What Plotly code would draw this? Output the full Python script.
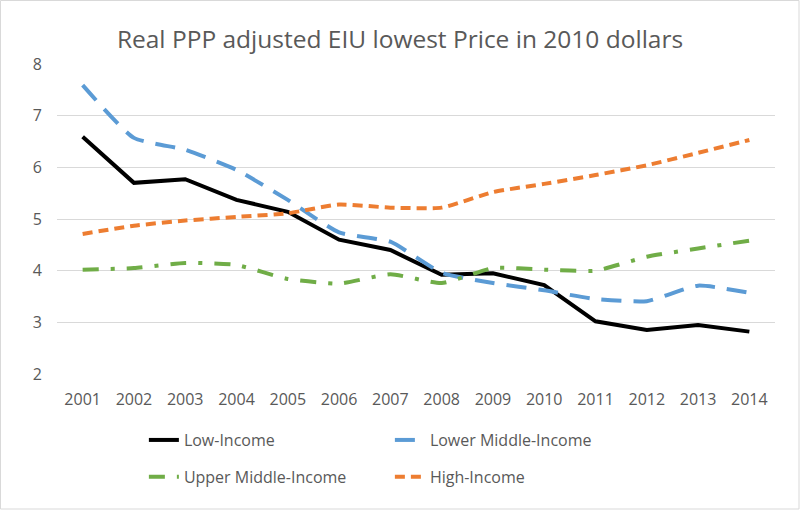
import plotly.graph_objects as go

years = [str(y) for y in range(2001, 2015)]

low_income = [6.59, 5.70, 5.77, 5.37, 5.14, 4.60, 4.40, 3.92, 3.95, 3.72, 3.02, 2.85, 2.95, 2.82]
lower_middle = [7.59, 6.57, 6.34, 5.95, 5.37, 4.74, 4.56, 3.96, 3.76, 3.62, 3.45, 3.41, 3.71, 3.57]
upper_middle = [4.02, 4.05, 4.15, 4.11, 3.84, 3.75, 3.93, 3.76, 4.05, 4.02, 4.00, 4.27, 4.43, 4.58]
high_income = [4.71, 4.87, 4.97, 5.04, 5.11, 5.28, 5.22, 5.22, 5.52, 5.68, 5.85, 6.04, 6.28, 6.53]

FONT = "Open Sans, Liberation Sans, Arial, sans-serif"
TEXT = "#595959"
GRID = "#d9d9d9"

# (name, values, line style, legend id)
series = [
    ("Low-Income", low_income, dict(color="#000000", width=4, dash="solid", shape="linear"), "legend"),
    ("Lower Middle-Income", lower_middle, dict(color="#5b9bd5", width=4, dash="20px,12px", shape="spline", smoothing=0.5), "legend"),
    ("Upper Middle-Income", upper_middle, dict(color="#70ad47", width=4, dash="16px,12px,4px,12px", shape="spline", smoothing=0.5), "legend2"),
    ("High-Income", high_income, dict(color="#ed7d31", width=4, dash="10px,6px", shape="spline", smoothing=0.5), "legend2"),
]

fig = go.Figure()
for name, vals, line, leg in series:
    fig.add_trace(
        go.Scatter(
            x=years,
            y=vals,
            mode="lines",
            name=name,
            legend=leg,
            line=line,
        )
    )

legend_style = dict(
    orientation="h",
    x=0.121,
    xanchor="left",
    yanchor="middle",
    entrywidth=201,
    font=dict(family=FONT, size=16, color=TEXT),
    bgcolor="rgba(0,0,0,0)",
)

fig.update_layout(
    width=800,
    height=510,
    margin=dict(l=57, r=25, t=64, b=136),
    paper_bgcolor="#ffffff",
    plot_bgcolor="#ffffff",
    font=dict(family=FONT, color=TEXT, size=16),
    title=dict(
        text="Real PPP adjusted EIU lowest Price in 2010 dollars",
        x=0.5,
        xanchor="center",
        y=0.922,
        yanchor="middle",
        font=dict(family=FONT, size=24.5, color=TEXT),
    ),
    legend=dict(y=-0.213, **legend_style),
    legend2=dict(y=-0.332, **legend_style),
    shapes=[
        dict(
            type="rect",
            xref="paper",
            yref="paper",
            x0=-56.5 / 718,
            x1=1 + 24 / 718,
            y0=-135 / 310,
            y1=1 + 63.5 / 310,
            line=dict(color=GRID, width=1),
        )
    ],
)
fig.update_xaxes(
    type="category",
    range=[-0.5, 13.5],
    showgrid=False,
    showline=False,
    ticks="",
    ticklabelstandoff=14,
    tickfont=dict(size=16, color=TEXT),
)
fig.update_yaxes(
    range=[2, 8],
    dtick=1,
    showgrid=True,
    gridcolor=GRID,
    gridwidth=1,
    zeroline=False,
    showline=False,
    ticks="",
    ticklabelstandoff=14,
    tickfont=dict(size=16, color=TEXT),
)

# drop the default page margin so the figure sits at the window's corner
fig.write_html(
    "out.html",
    config={"displayModeBar": False},
    post_script="document.body.style.margin = '0';",
)
